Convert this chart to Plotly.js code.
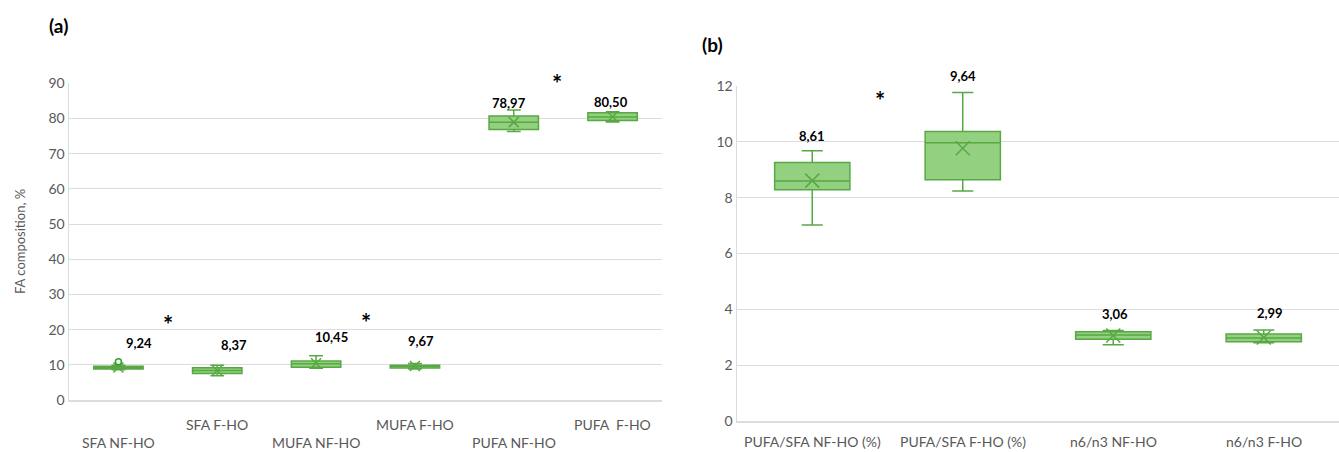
<!DOCTYPE html>
<html>
<head>
<meta charset="utf-8">
<script src="https://cdn.plot.ly/plotly-3.0.1.min.js"></script>
<style>html,body{margin:0;padding:0;background:#fff;}#chart{width:1339px;height:452px;}</style>
</head>
<body>
<div id="chart"></div>
<script>
// ---- Panel (a) data ----
const catsA = ["SFA NF-HO", "SFA F-HO", "MUFA NF-HO", "MUFA F-HO", "PUFA NF-HO", "PUFA  F-HO"];
const q1A = [8.8, 7.5, 9.3, 9.1, 76.9, 79.4];
const medA = [9.2, 8.4, 10.3, 9.6, 78.9, 80.4];
const q3A = [9.6, 9.2, 11.1, 9.9, 80.7, 81.6];
const loA = [8.6, 6.9, 9.0, 8.8, 76.3, 79.0];
const hiA = [9.9, 9.9, 12.6, 10.4, 82.4, 81.9];
const meanA = [9.24, 8.37, 10.45, 9.67, 78.97, 80.50];
const labelsA = ["9,24", "8,37", "10,45", "9,67", "78,97", "80,50"];
const outlierCatA = ["SFA NF-HO"];
const outlierValA = [10.9];

// ---- Panel (b) data ----
const catsB = ["PUFA/SFA NF-HO (%)", "PUFA/SFA F-HO (%)", "n6/n3 NF-HO", "n6/n3 F-HO"];
const q1B = [8.28, 8.64, 2.93, 2.84];
const medB = [8.60, 9.97, 3.08, 2.97];
const q3B = [9.26, 10.37, 3.20, 3.12];
const loB = [7.02, 8.24, 2.73, 2.80];
const hiB = [9.68, 11.77, 3.24, 3.26];
const meanMarkB = [8.61, 9.77, 3.06, 2.99];
const labelsB = ["8,61", "9,64", "3,06", "2,99"];

const FILL = "#93d07f";
const LINE = "#58a844";
const FONT = "Lato, 'Open Sans', sans-serif";
const GRAY = "#595959";
const H = 452, W = 1339;

function boxTrace(cats, q1, med, q3, lo, hi, xa, ya) {
  return {
    type: "box", x: cats, q1: q1, median: med, q3: q3,
    lowerfence: lo, upperfence: hi,
    xaxis: xa, yaxis: ya, boxpoints: false,
    width: 0.5, whiskerwidth: 0.28,
    fillcolor: FILL, line: {color: LINE, width: 1.5},
    hoverinfo: "skip", showlegend: false
  };
}
function meanTrace(cats, vals, xa, ya, size) {
  return {
    type: "scatter", mode: "markers", x: cats, y: vals, xaxis: xa, yaxis: ya,
    marker: {symbol: "x-thin-open", size: size, line: {color: LINE, width: 1.5}, color: LINE},
    showlegend: false, hoverinfo: "skip", cliponaxis: false
  };
}

const data = [
  boxTrace(catsA, q1A, medA, q3A, loA, hiA, "x", "y"),
  meanTrace(catsA, meanA, "x", "y", 10),
  {type: "scatter", mode: "markers", x: outlierCatA, y: outlierValA, xaxis: "x", yaxis: "y",
   marker: {symbol: "circle-open", size: 6, line: {color: LINE, width: 1.5}}, showlegend: false, hoverinfo: "skip"},
  boxTrace(catsB, q1B, medB, q3B, loB, hiB, "x2", "y2"),
  meanTrace(catsB, meanMarkB, "x2", "y2", 14)
];

const annotations = [];
// panel labels
annotations.push({xref: "paper", yref: "paper", x: 58/W, y: 1 - 26/H, text: "<b>(a)</b>", showarrow: false,
  font: {family: FONT, size: 19, color: "#000"}, xanchor: "center", yanchor: "middle"});
annotations.push({xref: "paper", yref: "paper", x: 713/W, y: 1 - 45/H, text: "<b>(b)</b>", showarrow: false,
  font: {family: FONT, size: 19, color: "#000"}, xanchor: "center", yanchor: "middle"});
// y-axis title (a)
annotations.push({xref: "paper", yref: "paper", x: 20/W, y: 1 - 242/H, text: "FA composition, %", textangle: -90,
  showarrow: false, font: {family: FONT, size: 13, color: GRAY}, xanchor: "center", yanchor: "middle"});

// category labels (a), staggered
const rowY = [442, 424];
catsA.forEach((c, i) => {
  annotations.push({xref: "x", yref: "paper", x: c, y: 1 - rowY[i % 2] / H, text: c, showarrow: false,
    font: {family: FONT, size: 14, color: GRAY}, xanchor: "center", yanchor: "middle"});
});
catsB.forEach((c) => {
  annotations.push({xref: "x2", yref: "paper", x: c, y: 1 - 441 / H, text: c, showarrow: false,
    font: {family: FONT, size: 14, color: GRAY}, xanchor: "center", yanchor: "middle"});
});

// value labels: [x shift px, y pixel]
const labPosA = [[21, 343], [17, 345], [15, 337], [6, 341], [-5, 103], [-2, 102]];
labelsA.forEach((t, i) => {
  annotations.push({xref: "x", yref: "paper", x: catsA[i], y: 1 - labPosA[i][1] / H, xshift: labPosA[i][0], text: "<b>" + t + "</b>",
    showarrow: false, font: {family: FONT, size: 13, color: "#000"}, xanchor: "center", yanchor: "middle"});
});
const labPosB = [[0, 136], [0, 76], [2, 314], [6, 313]];
labelsB.forEach((t, i) => {
  annotations.push({xref: "x2", yref: "paper", x: catsB[i], y: 1 - labPosB[i][1] / H, xshift: labPosB[i][0], text: "<b>" + t + "</b>",
    showarrow: false, font: {family: FONT, size: 13, color: "#000"}, xanchor: "center", yanchor: "middle"});
});

// significance asterisks: [xref, x (category position), y pixel]
const stars = [["x", 0.5, 324], ["x", 2.5, 322], ["x", 4.44, 83], ["x2", 0.45, 101]];
stars.forEach(s => {
  annotations.push({xref: s[0], yref: "paper", x: s[1], y: 1 - s[2] / H, text: "<b>*</b>", showarrow: false,
    font: {family: FONT, size: 24, color: "#000"}, xanchor: "center", yanchor: "middle"});
});

const gridc = "#dcdcdc";
const layout = {
  width: W, height: H,
  margin: {l: 0, r: 0, t: 0, b: 0},
  paper_bgcolor: "#fff", plot_bgcolor: "#fff",
  font: {family: FONT, color: GRAY, size: 13},
  showlegend: false,
  xaxis: {domain: [69/W, 662/W], type: "category", categoryarray: catsA, range: [-0.5, 5.5],
    showticklabels: false, showgrid: false, zeroline: false, showline: true, linecolor: gridc, linewidth: 1.5,
    anchor: "y"},
  yaxis: {domain: [1 - 400/H, 1 - 83.3/H], range: [0, 90], dtick: 10, showgrid: true, gridcolor: gridc,
    zeroline: false, showline: true, linecolor: gridc, linewidth: 1.5, ticks: "",
    tickfont: {family: FONT, size: 14, color: GRAY}, anchor: "x", automargin: false},
  xaxis2: {domain: [737/W, 1], type: "category", categoryarray: catsB, range: [-0.5, 3.5],
    showticklabels: false, showgrid: false, zeroline: false, showline: true, linecolor: gridc, linewidth: 1.5,
    anchor: "y2"},
  yaxis2: {domain: [1 - 421/H, 1 - 86/H], range: [0, 12], dtick: 2, showgrid: true, gridcolor: gridc,
    zeroline: false, showline: true, linecolor: gridc, linewidth: 1.5, ticks: "",
    tickfont: {family: FONT, size: 14, color: GRAY}, anchor: "x2", automargin: false},
  annotations: annotations
};

Plotly.newPlot("chart", data, layout, {staticPlot: true, displayModeBar: false});
</script>
</body>
</html>
